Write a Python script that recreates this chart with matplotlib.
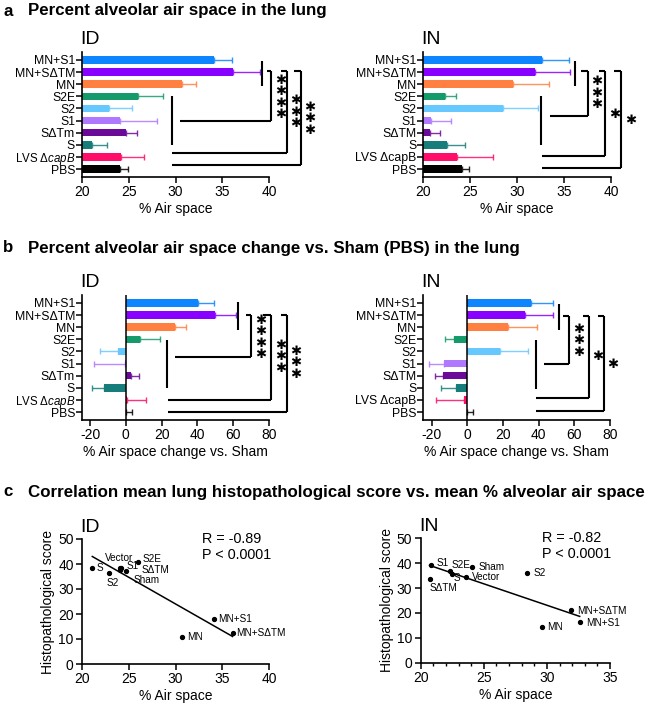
import matplotlib
matplotlib.use('Agg')
import matplotlib.pyplot as plt
import matplotlib.transforms as mtransforms
import numpy as np

plt.rcParams['font.family'] = ['Liberation Sans', 'DejaVu Sans']
plt.rcParams['mathtext.fontset'] = 'custom'
plt.rcParams['mathtext.rm'] = 'Liberation Sans'
plt.rcParams['mathtext.it'] = 'Liberation Sans:italic'
plt.rcParams['axes.unicode_minus'] = False

W, H = 659, 706

# ---- data ----
groups_id = ['MN+S1', 'MN+SΔTM', 'MN', 'S2E', 'S2', 'S1', 'SΔTm', 'S', r'LVS Δ$\it{capB}$', 'PBS']
groups_in = ['MN+S1', 'MN+SΔTM', 'MN', 'S2E', 'S2', 'S1', 'SΔTM', 'S', 'LVS ΔcapB', 'PBS']
colors = ['#0d85ff', '#8800ff', '#ff8040', '#159a6b', '#66c8ff', '#b077ff', '#6b0a99', '#177d7a', '#ff0d68', '#000000']

air_id = [34.1, 36.1, 30.7, 26.0, 22.9, 24.1, 24.7, 21.1, 24.2, 24.1]
air_id_err = [1.9, 2.9, 1.5, 2.7, 2.4, 3.9, 1.2, 1.6, 2.4, 0.8]
air_in = [32.6, 31.9, 29.6, 22.3, 28.45, 20.8, 20.7, 22.5, 23.6, 24.1]
air_in_err = [2.9, 3.7, 3.8, 1.2, 3.75, 2.1, 1.1, 1.9, 3.8, 0.8]

chg_id = [40.3, 49.6, 27.3, 7.8, -4.3, -0.3, 2.8, -12.3, 0.4, 0.0]
chg_id_err = [8.9, 11.7, 6.2, 11.5, 10.2, 17.5, 4.6, 6.8, 10.6, 3.7]
chg_in = [35.7, 32.5, 23.0, -7.3, 18.3, -13.1, -13.5, -6.2, -1.9, 0.0]
chg_in_err = [12.2, 15.7, 16.3, 5.2, 15.9, 8.6, 4.6, 8.4, 15.9, 3.4]

sc_names_id = ['MN+S1', 'MN+SΔTM', 'MN', 'S2E', 'S2', 'S1', 'SΔTM', 'S', 'Vector', 'Sham']
hist_id = [18.0, 12.3, 10.8, 40.9, 36.3, 38.5, 37.3, 38.3, 38.5, 37.6]
sc_names_in = ['MN+S1', 'MN+SΔTM', 'MN', 'S2E', 'S2', 'S1', 'SΔTM', 'S', 'Vector', 'Sham']
hist_in = [16.2, 21.0, 14.3, 36.9, 36.2, 39.1, 33.5, 35.7, 34.3, 38.6]

# label positions (data units) for scatter annotations
lab_id = [(34.55, 18.0), (36.5, 12.3), (31.2, 10.7), (26.5, 41.9), (22.6, 32.3),
          (24.8, 39.2), (26.4, 37.6), (21.6, 38.3), (22.5, 42.5), (25.5, 33.6)]
lab_in = [(33.1, 15.8), (32.36, 20.9), (30.03, 14.2), (22.46, 39.3), (28.98, 35.9),
          (21.27, 39.9), (20.74, 29.9), (22.63, 33.9), (24.1, 34.3), (24.57, 38.3)]


def add_ax(left, right, top, bottom):
    return fig.add_axes([left / W, 1 - bottom / H, (right - left) / W, (bottom - top) / H])


def style(ax):
    for s in ['top', 'right']:
        ax.spines[s].set_visible(False)
    for s in ['left', 'bottom']:
        ax.spines[s].set_linewidth(1.2)
    ax.tick_params(width=1.1, length=4, labelsize=10, pad=2)


def bars(ax, names, vals, errs, xlim):
    y = np.arange(len(vals))
    for i in range(len(vals)):
        sgn = 1 if vals[i] >= 0 else -1
        ax.barh(y[i], vals[i] - xlim[2], left=xlim[2], height=0.62, color=colors[i])
        ax.errorbar(vals[i], y[i], xerr=[[0] if sgn > 0 else [errs[i]], [errs[i]] if sgn > 0 else [0]],
                    color=colors[i], lw=1.0, capsize=2.2, capthick=1.0, alpha=0.85)
    ax.set_yticks(y)
    labels = ax.set_yticklabels(names, fontsize=8.8)
    # the mathtext label has a taller box; keep it a touch smaller and lift it slightly
    if '$' in names[8]:
        labels[8].set_fontsize(8.3)
        lab = ax.yaxis.get_major_ticks()[8].label1
        lab.set_transform(lab.get_transform() + mtransforms.ScaledTranslation(0, 1.5 / 100, fig.dpi_scale_trans))
    ax.tick_params(axis='y', pad=1)
    ax.set_ylim(9.66, -0.66)
    ax.set_xlim(xlim[0], xlim[1])


def bracket(ax, segs, stars):
    for xs, ys in segs:
        ax.plot(xs, ys, color='black', lw=1.5, clip_on=False, solid_capstyle='butt')
    for x, y, n in stars:
        ax.text(x, y, '\n'.join(['✱'] * n), fontsize=9.5, family='DejaVu Sans', ha='center', va='center',
                linespacing=0.85)


def groupbars(g1, g2, b1, b2, b3):
    # g1/g2: (x, y0, y1) group lines; b: (x0, x1, ytop, ylow, xleft)
    segs = [([g1[0], g1[0]], [g1[1], g1[2]]), ([g2[0], g2[0]], [g2[1], g2[2]])]
    for (x0, x1, yt, yl, xl) in [b1, b2, b3]:
        segs.append(([x0, x1], [yt, yt]))
        segs.append(([x1, x1], [yt, yl]))
        segs.append(([xl, x1], [yl, yl]))
    return segs


fig = plt.figure(figsize=(W / 100, H / 100), dpi=100)

# panel titles
tfs = 12.2
fig.text(3 / W, 1 - 11 / H, 'a', fontsize=tfs, fontweight='bold', va='center')
fig.text(28 / W, 1 - 11 / H, 'Percent alveolar air space in the lung', fontsize=tfs, fontweight='bold', va='center')
fig.text(3 / W, 1 - 248 / H, 'b', fontsize=tfs, fontweight='bold', va='center')
fig.text(28 / W, 1 - 248 / H, 'Percent alveolar air space change vs. Sham (PBS) in the lung', fontsize=tfs,
         fontweight='bold', va='center')
fig.text(3 / W, 1 - 492 / H, 'c', fontsize=tfs, fontweight='bold', va='center')
fig.text(28 / W, 1 - 492 / H, 'Correlation mean lung histopathological score vs. mean % alveolar air space',
         fontsize=tfs, fontweight='bold', va='center')

lfs = 10

# ---- a ID ----
ax = add_ax(82, 269, 52, 177)
style(ax)
bars(ax, groups_id, air_id, air_id_err, (20, 40, 20))
ax.set_xticks([20, 25, 30, 35, 40])
ax.set_xlabel('% Air space', fontsize=lfs, labelpad=2)
ax.set_title('ID', fontsize=14, loc='left', pad=6, x=-0.01)
bracket(ax, groupbars((39.25, 0.05, 2.12), (29.6, 3.0, 7.05), (39.8, 40.25, 0.94, 5.07, 30.5),
                      (41.3, 41.9, 0.94, 7.69, 29.6), (42.7, 43.45, 0.94, 8.7, 29.6)),
        [(41.3, 3.1, 4), (42.85, 4.3, 3), (44.4, 4.85, 3)])

# ---- a IN ----
ax = add_ax(423.3, 611, 52, 177)
style(ax)
bars(ax, groups_in, air_in, air_in_err, (20, 40, 20))
ax.set_xticks([20, 25, 30, 35, 40])
ax.set_xlabel('% Air space', fontsize=lfs, labelpad=2)
ax.set_title('IN', fontsize=14, loc='left', pad=6, x=-0.01)
bracket(ax, groupbars((36.16, 0.05, 2.12), (32.54, 3.0, 7.05), (36.77, 37.58, 0.94, 4.6, 33.5),
                      (38.76, 39.36, 0.94, 7.96, 32.68), (40.32, 41.07, 0.94, 8.93, 32.68)),
        [(38.47, 2.75, 3), (40.36, 4.5, 1), (42.13, 5.0, 1)])

# ---- b ID ----
ax = add_ax(82, 269, 295, 420)
style(ax)
bars(ax, groups_id, chg_id, chg_id_err, (-24.5, 80, 0))
ax.axvline(0, color='black', lw=1.1)
ax.set_xticks([-20, 0, 20, 40, 60, 80])
ax.set_xlabel('% Air space change vs. Sham', fontsize=lfs, labelpad=2)
ax.set_title('ID', fontsize=14, loc='left', pad=6, x=-0.01)
bracket(ax, groupbars((62.6, -0.08, 2.25), (23.2, 3.02, 6.98), (66.9, 70.1, 1.02, 4.45, 27.7),
                      (76.6, 81.2, 1.02, 7.97, 23.6), (86.8, 90.0, 1.02, 8.98, 23.6)),
        [(75.3, 2.85, 4), (86.4, 4.45, 3), (95.2, 4.95, 3)])

# ---- b IN ----
ax = add_ax(423.3, 610, 295, 420)
style(ax)
bars(ax, groups_in, chg_in, chg_in_err, (-24.7, 80, 0))
ax.axvline(0, color='black', lw=1.1)
ax.set_xticks([-20, 0, 20, 40, 60, 80])
ax.set_xlabel('% Air space change vs. Sham', fontsize=lfs, labelpad=2)
ax.set_title('IN', fontsize=14, loc='left', pad=6, x=-0.01)
bracket(ax, groupbars((51.2, 0.1, 2.25), (38.5, 3.08, 7.06), (53.8, 57.2, 1.1, 5.05, 43.0),
                      (65.0, 68.0, 1.1, 7.83, 38.5), (73.1, 76.6, 1.1, 8.93, 38.5)),
        [(62.2, 3.1, 3), (72.9, 4.4, 1), (81.5, 5.05, 1)])


# ---- c scatter ----
def scatter_panel(ax, xv, yv, names, labs, xlim, xticks, title, rtxt, ptxt):
    style(ax)
    xv = np.array(xv)
    yv = np.array(yv)
    ax.plot(xv, yv, 'o', color='black', ms=2.8, clip_on=False)
    k, b = np.polyfit(xv, yv, 1)
    xx = np.array([xv.min(), xv.max()])
    ax.plot(xx, k * xx + b, color='black', lw=1.1)
    for n, (lx, ly) in zip(names, labs):
        ax.text(lx, ly, n, fontsize=7.2, ha='left', va='center')
    ax.set_xlim(*xlim)
    ax.set_ylim(0, 50)
    ax.set_xticks(xticks)
    ax.set_yticks([0, 10, 20, 30, 40, 50])
    ax.set_xlabel('% Air space', fontsize=lfs, labelpad=2)
    ax.set_ylabel('Histopathological score', fontsize=lfs, labelpad=2)
    ax.set_title(title, fontsize=14, loc='left', pad=5, x=-0.01)
    ax.text(0.64, 1.0, rtxt, transform=ax.transAxes, fontsize=10.4, va='center')
    ax.text(0.64, 0.87, ptxt, transform=ax.transAxes, fontsize=10.4, va='center')


ax = add_ax(82, 269, 539, 664)
scatter_panel(ax, air_id, hist_id, sc_names_id, lab_id, (20, 40), [20, 25, 30, 35, 40], 'ID',
              'R = -0.89', 'P < 0.0001')

ax = add_ax(420.7, 610, 538.3, 662.7)
scatter_panel(ax, air_in, hist_in, sc_names_in, lab_in, (20, 35), [20, 25, 30, 35], 'IN',
              'R = -0.82', 'P < 0.0001')
ax.set_xticks(np.arange(20, 36, 1), minor=True)
ax.tick_params(axis='x', which='minor', length=2.5, width=1.0)

fig.savefig('out.png', dpi=100)
